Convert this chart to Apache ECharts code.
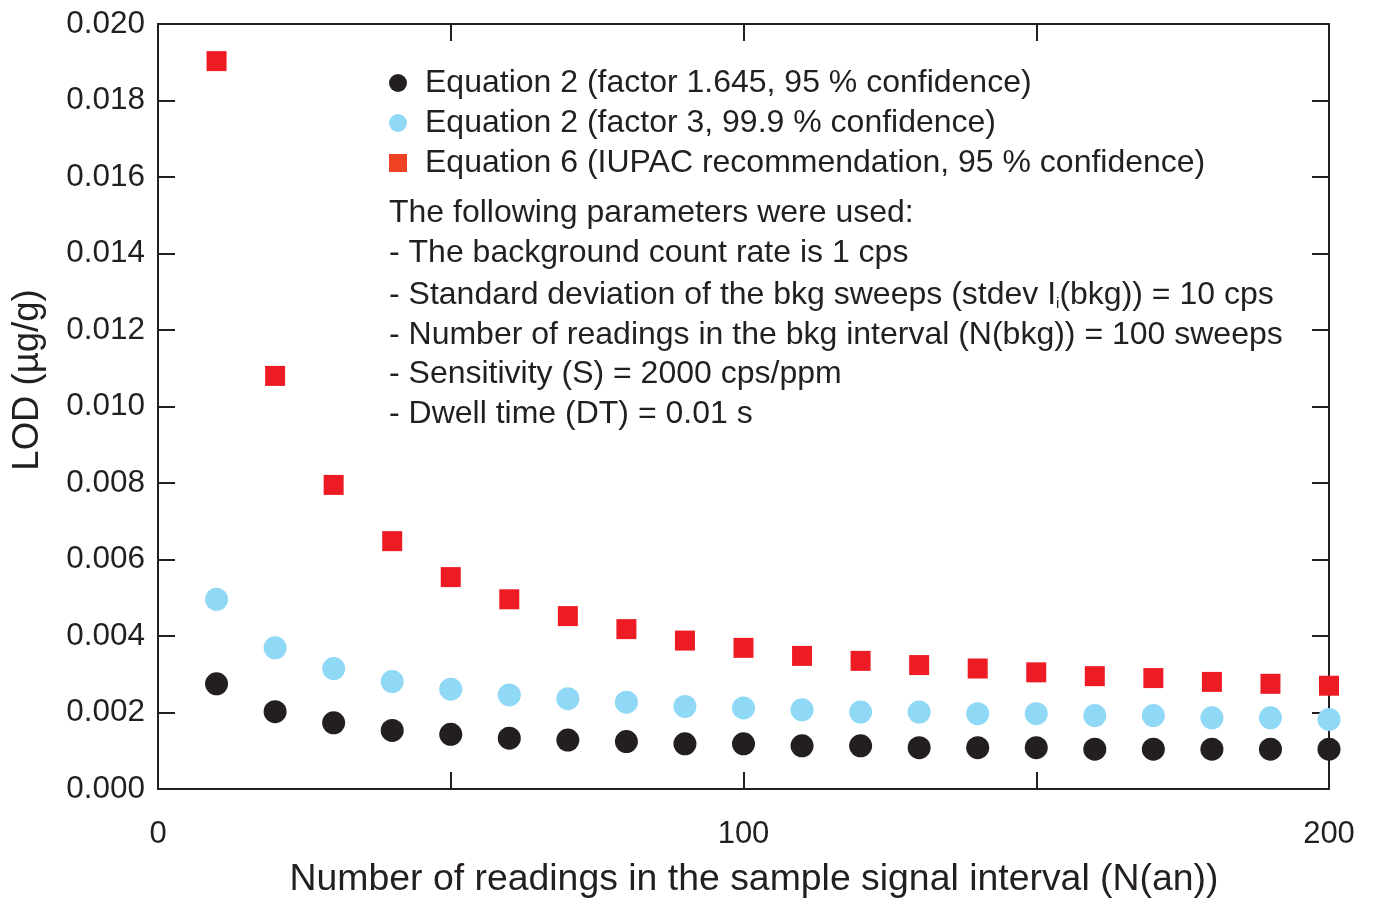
<!DOCTYPE html>
<html>
<head>
<meta charset="utf-8">
<script src="https://cdn.jsdelivr.net/npm/echarts@6/dist/echarts.min.js"></script>
<style>
html,body{margin:0;padding:0;background:#fff;}
#chart{width:1373px;height:902px;}
</style>
</head>
<body>
<div id="chart"></div>
<script>
// ---- data ----
const nReadings = [10,20,30,40,50,60,70,80,90,100,110,120,130,140,150,160,170,180,190,200];
const eq2Factor1645 = [0.00275,0.00202,0.00173,0.00153,0.00143,0.00133,0.00128,0.00124,0.00118,0.00118,0.00113,0.00113,0.00108,0.00108,0.00108,0.00104,0.00104,0.00104,0.00104,0.00104];
const eq2Factor3 = [0.00496,0.00369,0.00315,0.00281,0.00261,0.00246,0.00236,0.00227,0.00216,0.00212,0.00207,0.00201,0.00201,0.00197,0.00197,0.00192,0.00192,0.00186,0.00186,0.00182];
const eq6Iupac = [0.01903,0.01080,0.00795,0.00648,0.00554,0.00496,0.00452,0.00418,0.00388,0.00369,0.00348,0.00335,0.00324,0.00315,0.00305,0.00295,0.00290,0.00280,0.00275,0.00270];
const seriesNames = [
  'Equation 2 (factor 1.645, 95 % confidence)',
  'Equation 2 (factor 3, 99.9 % confidence)',
  'Equation 6 (IUPAC recommendation, 95 % confidence)'
];
const xTickLabels = {0:'0',100:'100',200:'200'};
const yTickLabels = ['0.000','0.002','0.004','0.006','0.008','0.010','0.012','0.014','0.016','0.018','0.020'];
const paramLines = [
  'The following parameters were used:',
  '- The background count rate is 1 cps',
  '{n|- Standard deviation of the bkg sweeps (stdev I}{s|i}{n|(bkg)) = 10 cps}',
  '- Number of readings in the bkg interval (N(bkg)) = 100 sweeps',
  '- Sensitivity (S) = 2000 cps/ppm',
  '- Dwell time (DT) = 0.01 s'
];
const xTitle = 'Number of readings in the sample signal interval (N(an))';
const yTitle = 'LOD (µg/g)';

// ---- styling ----
const FONT = '"Liberation Sans", Arial, Helvetica, sans-serif';
const INK = '#231f20';
const C_BLACK = '#231f20', C_BLUE = '#8fd8f6', C_RED = '#ed1c24', C_RED_LEG = '#ef4123';

function pairs(ys){ return nReadings.map((x,i)=>[x, ys[i]]); }

const axisLineStyle = {lineStyle:{color:INK,width:2}};
const tickStyle = {show:true,inside:true,length:17,lineStyle:{color:INK,width:2}};

const chart = echarts.init(document.getElementById('chart'), null, {renderer:'canvas'});
const paramY = [213, 253, 295, 335, 374, 414];

chart.setOption({
  animation:false,
  backgroundColor:'#ffffff',
  grid:{left:158,right:44,top:24,bottom:113,containLabel:false},
  xAxis:[
    {type:'value',min:0,max:200,interval:50,position:'bottom',
     axisLine:{show:true,onZero:false,...axisLineStyle},axisTick:tickStyle,splitLine:{show:false},
     axisLabel:{show:true,margin:30,fontSize:31,fontFamily:FONT,color:INK,
       formatter:v=> (xTickLabels[v]!==undefined?xTickLabels[v]:'')}},
    {type:'value',min:0,max:200,interval:50,position:'top',
     axisLine:{show:true,onZero:false,...axisLineStyle},axisTick:tickStyle,splitLine:{show:false},axisLabel:{show:false}}
  ],
  yAxis:[
    {type:'value',min:0,max:0.02,interval:0.002,position:'left',
     axisLine:{show:true,onZero:false,...axisLineStyle},axisTick:tickStyle,splitLine:{show:false},
     axisLabel:{show:true,margin:13,fontSize:31.5,fontFamily:FONT,color:INK,
       formatter:(v)=>yTickLabels[Math.round(v/0.002)]}},
    {type:'value',min:0,max:0.02,interval:0.002,position:'right',
     axisLine:{show:true,onZero:false,...axisLineStyle},axisTick:tickStyle,splitLine:{show:false},axisLabel:{show:false}}
  ],
  legend:{
    show:true,orient:'vertical',left:389,top:67,padding:0,itemGap:8,itemWidth:18,itemHeight:18,
    selectedMode:false,
    textStyle:{fontSize:32,fontFamily:FONT,color:INK,lineHeight:31,padding:[0,0,0,13]},
    data:[
      {name:seriesNames[0],icon:'circle',itemStyle:{color:C_BLACK}},
      {name:seriesNames[1],icon:'circle',itemStyle:{color:C_BLUE}},
      {name:seriesNames[2],icon:'rect',itemStyle:{color:C_RED_LEG}}
    ]
  },
  series:[
    {name:seriesNames[2],type:'scatter',symbol:'rect',symbolSize:20,data:pairs(eq6Iupac),itemStyle:{color:C_RED,opacity:1},z:3},
    {name:seriesNames[1],type:'scatter',symbol:'circle',symbolSize:23,data:pairs(eq2Factor3),itemStyle:{color:C_BLUE,opacity:1},z:3},
    {name:seriesNames[0],type:'scatter',symbol:'circle',symbolSize:23,data:pairs(eq2Factor1645),itemStyle:{color:C_BLACK,opacity:1},z:3}
  ],
  graphic:[
    ...paramLines.map((t,i)=>({
      type:'text',x:389,y:paramY[i],z:10,
      style:{text:t,fontSize:32,fontFamily:FONT,fill:INK,verticalAlign:'middle',align:'left',
        rich:{n:{fontSize:32,fontFamily:FONT,fill:INK,color:INK},
              s:{fontSize:15,fontFamily:FONT,fill:INK,color:INK,padding:[17,0,0,0]}}}
    })),
    {type:'text',x:754,y:880,z:10,
     style:{text:xTitle,fontSize:37.4,fontFamily:FONT,fill:INK,align:'center',verticalAlign:'middle'}},
    {type:'text',x:28,y:380,rotation:Math.PI/2,z:10,
     style:{text:yTitle,fontSize:36.5,fontFamily:FONT,fill:INK,align:'center',verticalAlign:'middle'}}
  ]
});
</script>
</body>
</html>
